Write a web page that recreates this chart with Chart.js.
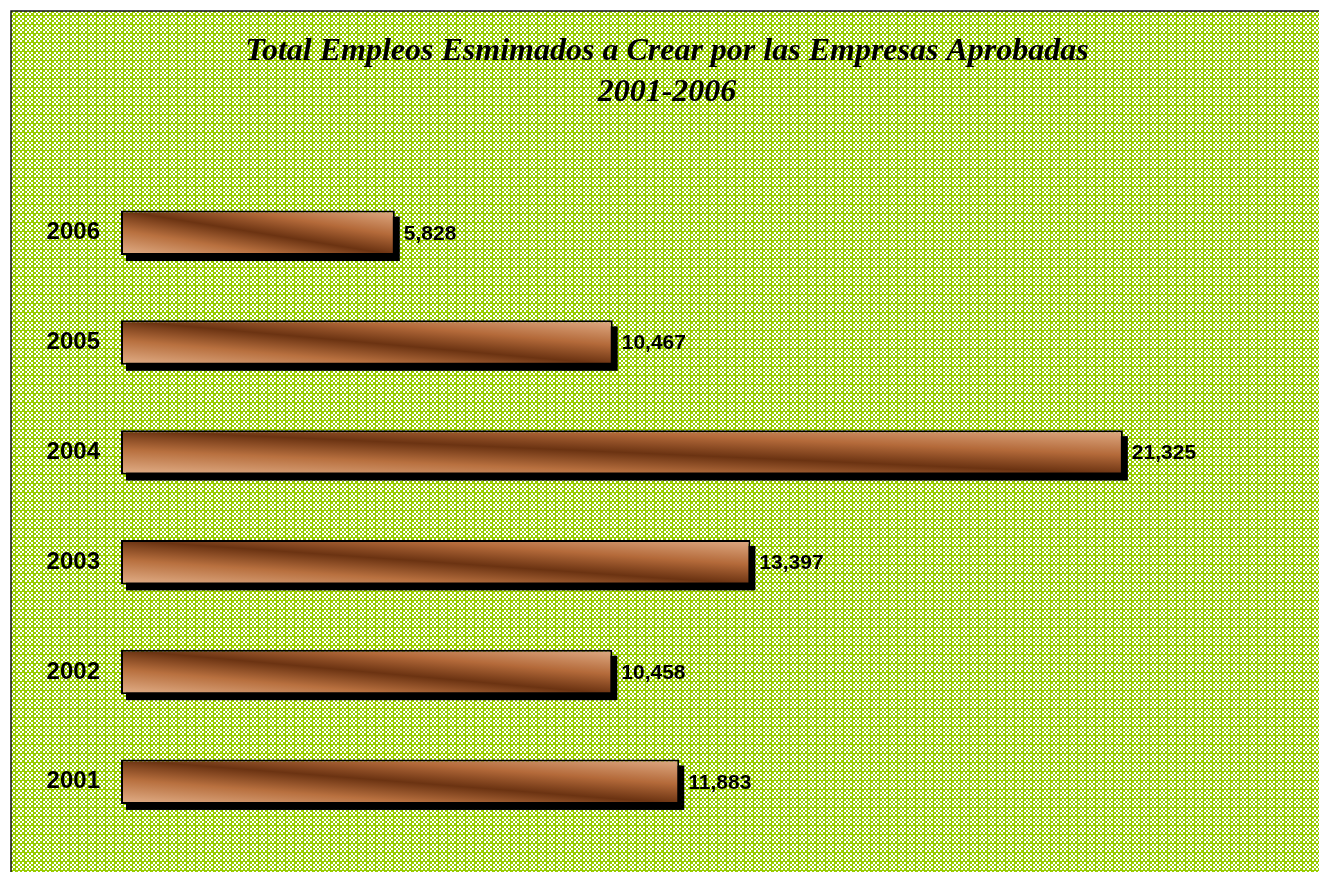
<!DOCTYPE html>
<html>
<head>
<meta charset="utf-8">
<script src="https://cdn.jsdelivr.net/npm/chart.js@4.4.1/dist/chart.umd.min.js"></script>
<style>
  html, body { margin: 0; padding: 0; background: #fff; }
  canvas { display: block; }
</style>
</head>
<body>
<canvas id="empleos" width="1319" height="872"></canvas>
<script>
const years = ['2006', '2005', '2004', '2003', '2002', '2001'];
const empleos = [5828, 10467, 21325, 13397, 10458, 11883];
const titulo = ['Total Empleos Esmimados a Crear por las Empresas Aprobadas', '2001-2006'];

// green / white checker fill used behind the whole chart
const tile = document.createElement('canvas');
tile.width = 9; tile.height = 9;
const t = tile.getContext('2d');
t.fillStyle = '#99CC00';
t.fillRect(0, 0, 9, 9);
t.fillStyle = '#ffffff';
const starts = [0, 2, 4, 7];
for (let i = 0; i < 4; i++) {
  for (let j = 0; j < 4; j++) {
    if ((i + j) % 2 === 1) t.fillRect(starts[i], starts[j], 2, 2);
  }
}

const fondo = {
  id: 'fondo',
  beforeDraw(chart) {
    const c = chart.ctx;
    c.save();
    c.fillStyle = c.createPattern(tile, 'repeat');
    c.fillRect(11, 11, chart.width - 11, chart.height - 11);
    c.strokeStyle = '#111';
    c.lineWidth = 1.5;
    c.beginPath();
    c.moveTo(11, chart.height);
    c.lineTo(11, 11);
    c.lineTo(chart.width, 11);
    c.stroke();
    c.restore();
  }
};

// black drop shadow under each bar, then value labels
const sombra = {
  id: 'sombra',
  beforeDatasetsDraw(chart) {
    const c = chart.ctx;
    c.save();
    c.fillStyle = '#000';
    chart.getDatasetMeta(0).data.forEach(bar => {
      const p = bar.getProps(['x', 'y', 'base', 'height'], true);
      c.fillRect(p.base + 5, p.y - p.height / 2 + 6, p.x - p.base, p.height);
    });
    c.restore();
  },
  afterDatasetsDraw(chart) {
    const c = chart.ctx;
    c.save();
    c.fillStyle = '#000';
    c.font = 'bold 21px "Liberation Sans", Arial, sans-serif';
    c.textAlign = 'left';
    c.textBaseline = 'middle';
    chart.getDatasetMeta(0).data.forEach((bar, i) => {
      c.fillText(empleos[i].toLocaleString('en-US'), bar.x + 9, bar.y + 1);
    });
    c.restore();
  }
};

function barFill(ctx) {
  const chart = ctx.chart;
  const xs = chart.scales.x, ys = chart.scales.y;
  if (ctx.type !== 'data' || !xs || !ys || !chart.chartArea) return '#A0582C';
  const left = xs.getPixelForValue(0);
  const right = xs.getPixelForValue(ctx.raw);
  const yc = ys.getPixelForValue(ctx.dataIndex);
  const h = ys.height / years.length * 0.405;
  const w = right - left;
  if (!isFinite(w) || w <= 0 || !isFinite(yc)) return '#A0582C';
  const L = Math.sqrt(w * w + h * h);
  const dx = h / L, dy = -w / L, k = w * h / L;
  const cx = (left + right) / 2;
  const g = chart.ctx.createLinearGradient(cx - dx * k, yc - dy * k, cx + dx * k, yc + dy * k);
  g.addColorStop(0, '#E2B08A');
  g.addColorStop(0.28, '#B8703F');
  g.addColorStop(0.5, '#6B3312');
  g.addColorStop(0.72, '#B46A3A');
  g.addColorStop(1, '#E0AC86');
  return g;
}

new Chart(document.getElementById('empleos'), {
  type: 'bar',
  data: {
    labels: years,
    datasets: [{
      data: empleos,
      backgroundColor: barFill,
      borderColor: '#000',
      borderWidth: 2,
      borderSkipped: false,
      barPercentage: 1,
      categoryPercentage: 0.405
    }]
  },
  options: {
    indexAxis: 'y',
    responsive: false,
    animation: false,
    layout: { padding: { left: 15, top: 11, right: 0, bottom: 24 } },
    scales: {
      x: { display: false, min: 0, max: 25500 },
      y: {
        grid: { display: false, drawTicks: false },
        border: { display: false },
        ticks: {
          color: '#000',
          padding: 21,
          font: { family: '"Liberation Sans", Arial, sans-serif', size: 24, weight: 'bold' }
        },
        afterFit(s) { s.width = 106; }
      }
    },
    plugins: {
      legend: { display: false },
      tooltip: { enabled: false },
      title: {
        display: true,
        text: titulo,
        color: '#000',
        font: { family: '"Liberation Serif", "Times New Roman", serif', size: 32, style: 'italic', weight: 'bold', lineHeight: 1.28 },
        padding: { top: 20.5, bottom: 64.5 }
      }
    }
  },
  plugins: [fondo, sombra]
});
</script>
</body>
</html>
